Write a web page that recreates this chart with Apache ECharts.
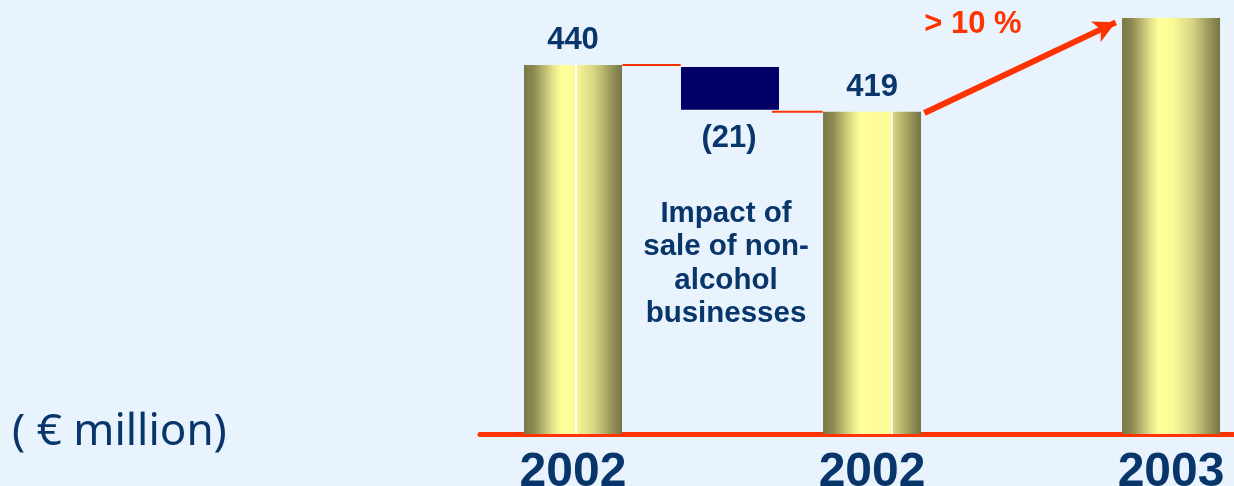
<!DOCTYPE html>
<html><head><meta charset="utf-8">
<script src="https://cdn.jsdelivr.net/npm/echarts@6/dist/echarts.min.js"></script>
<style>html,body{margin:0;padding:0;background:#e9f3fd}#c{width:1234px;height:486px}</style>
</head><body><div id="c"></div>
<script>
// ---- data ----
const barPositions = [0, 2, 4];          // positions of the total bars along the x axis
const barValues = [440, 419, 461];
const barLabels = ['440', '419', ''];
const tickLabels = ['2002', '2002', '2003'];
const changePosition = 1.05;
const changeFrom = 419;
const changeTo = 440;
const changeLabel = '(21)';
const changeNote = 'Impact of\nsale of non-\nalcohol\nbusinesses';
const connector1 = [[0.33, 440], [0.72, 440]];
const connector2 = [[1.33, 419], [1.67, 419]];
const growthLabel = '> 10 %';
const growthStart = [2.35, 418.5];
const growthEnd = [3.63, 459];
const unitLabel = '( € million)';

// ---- styling ----
const NAVY_TEXT = '#08366a';
const RED = '#ff3300';
const stripeAt = [0.53, 0.70, null];
function barGradient(stripe) {
  const stops = [
    { offset: 0, color: '#7a7847' },
    { offset: 0.1, color: '#8c8a52' },
    { offset: 0.3, color: '#e6e48b' },
    { offset: 0.38, color: '#ffff9a' }
  ];
  if (stripe != null) {
    stops.push({ offset: stripe - 0.01, color: '#fbfa97' });
    stops.push({ offset: stripe - 0.005, color: '#ffffff' });
    stops.push({ offset: stripe + 0.008, color: '#ffffff' });
    stops.push({ offset: stripe + 0.013, color: stripe > 0.6 ? '#c9c77d' : '#f6f494' });
  } else {
    stops.push({ offset: 0.52, color: '#fbfa97' });
  }
  stops.push({ offset: 0.72, color: '#d6d482' });
  stops.push({ offset: 0.88, color: '#9c9a5c' });
  stops.push({ offset: 1, color: '#767444' });
  return new echarts.graphic.LinearGradient(0, 0, 1, 0, stops);
}

const chart = echarts.init(document.getElementById('c'), null, { renderer: 'canvas' });
const FONT = '"Liberation Sans", Arial, sans-serif';

chart.setOption({
  animation: false,
  backgroundColor: '#e9f3fd',
  grid: { left: 480, right: 0, top: 0, bottom: 52, containLabel: false, outerBoundsMode: 'none' },
  xAxis: {
    type: 'value', min: -0.622, max: 4.421,
    splitLine: { show: false },
    axisTick: { show: false },
    axisLine: { show: true, lineStyle: { color: RED, width: 5 } },
    axisLabel: {
      customValues: barPositions,
      formatter: v => tickLabels[barPositions.indexOf(v)] || '',
      color: NAVY_TEXT, fontSize: 48, fontWeight: 'bold', fontFamily: FONT,
      margin: 15, lineHeight: 48
    }
  },
  yAxis: { type: 'value', min: 275, max: 469, show: false, splitLine: { show: false } },
  series: [
    {
      type: 'line', z: 1, symbol: 'none', silent: true,
      data: connector1,
      lineStyle: { color: RED, width: 2 }
    },
    {
      type: 'line', z: 1, symbol: 'none', silent: true,
      data: connector2,
      lineStyle: { color: RED, width: 2 }
    },
    {
      type: 'bar', z: 2, barWidth: 98, silent: true,
      data: barValues.map((v, i) => ({
        value: [barPositions[i], v],
        itemStyle: { color: barGradient(stripeAt[i]) },
        label: { formatter: barLabels[i] }
      })),
      label: {
        show: true, position: 'top', distance: 9,
        color: NAVY_TEXT, fontSize: 31, fontWeight: 'bold', fontFamily: FONT
      }
    },
    {
      type: 'custom', z: 3, silent: true,
      encode: { x: 0, y: [1, 2] },
      data: [[changePosition, changeFrom, changeTo]],
      renderItem: function (params, api) {
        const x = api.value(0);
        const top = api.coord([x, api.value(2)]);
        const bot = api.coord([x, api.value(1)]);
        const w = 98;
        return {
          type: 'group',
          children: [
            { type: 'rect', shape: { x: top[0] - w / 2, y: top[1] + 2, width: w, height: bot[1] - top[1] - 4 },
              style: { fill: '#000066' } },
            { type: 'text', style: { text: changeLabel, x: top[0] - 1, y: bot[1] + 11, align: 'center', verticalAlign: 'top',
              font: 'bold 31px ' + FONT, fill: NAVY_TEXT } },
            { type: 'text', style: { text: changeNote, x: top[0] - 4, y: bot[1] + 85, align: 'center', verticalAlign: 'top',
              font: 'bold 29.5px ' + FONT, fill: NAVY_TEXT, lineHeight: 33.5 } }
          ]
        };
      }
    },
    {
      type: 'line', data: [], silent: true,
      markLine: {
        silent: true, symbol: ['none', 'arrow'], symbolSize: [17, 22], animation: false,
        label: { show: false },
        lineStyle: { color: RED, width: 6, type: 'solid', cap: 'butt' },
        emphasis: { disabled: true },
        data: [[{ coord: growthStart }, { coord: growthEnd }]]
      }
    }
  ],
  graphic: [
    { type: 'text', left: 12, top: 410, style: { text: unitLabel, font: '44px "Noto Sans", sans-serif', fill: NAVY_TEXT } },
    { type: 'text', x: 973, y: 9, style: { text: growthLabel, align: 'center', font: 'bold 31px ' + FONT, fill: RED } }
  ]
});
</script></body></html>
